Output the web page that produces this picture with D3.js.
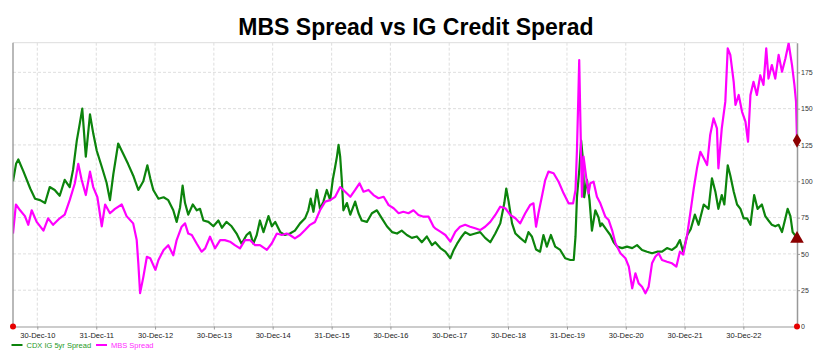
<!DOCTYPE html>
<html><head><meta charset="utf-8">
<script src="https://cdn.jsdelivr.net/npm/d3@7"></script>
<style>body{margin:0;background:#fff}svg{display:block;font-family:"Liberation Sans",Arial,sans-serif}</style>
</head><body><svg id="c" width="818" height="358"></svg>
<script>
const title = "MBS Spread vs IG Credit Sperad";
const seriesNames = ["CDX IG 5yr Spread", "MBS Spread"];
const xTickDates = ["2010-12-30","2011-12-31","2012-12-30","2013-12-30","2014-12-30","2015-12-31","2016-12-30","2017-12-30","2018-12-30","2019-12-31","2020-12-30","2021-12-30","2022-12-30"];
const xTickLabels = ["30-Dec-10","31-Dec-11","30-Dec-12","30-Dec-13","30-Dec-14","31-Dec-15","30-Dec-16","30-Dec-17","30-Dec-18","31-Dec-19","30-Dec-20","30-Dec-21","30-Dec-22"];
const yTicks = [0,25,50,75,100,125,150,175];
const xDomain = ["2010-08-01","2023-11-28"];
const yMax = 195.4;

const cdxData = [
["2010-08-01",100],["2010-08-20",112],["2010-09-03",115],["2010-10-04",107],["2010-11-16",95],["2010-12-16",88],
["2011-01-16",87],["2011-02-16",85],["2011-03-17",96],["2011-04-17",94],["2011-05-18",90],["2011-06-18",101],
["2011-07-19",96],["2011-08-09",108],["2011-09-01",128],["2011-09-20",140],["2011-10-05",150],["2011-10-27",117],
["2011-11-22",146],["2011-12-12",133],["2012-01-03",121],["2012-02-03",110],["2012-03-04",99],["2012-03-25",87],
["2012-04-15",105],["2012-05-15",126],["2012-06-15",119],["2012-07-15",112],["2012-08-16",104],["2012-09-17",94],
["2012-10-18",100],["2012-11-12",111],["2012-11-30",102],["2012-12-19",94],["2013-01-20",88],["2013-02-21",89],
["2013-03-22",87],["2013-04-22",80],["2013-05-13",72],["2013-06-03",82],["2013-06-19",97],["2013-07-04",85],
["2013-07-24",77],["2013-08-21",84],["2013-09-15",80],["2013-10-05",81],["2013-10-26",73],["2013-11-26",72],
["2013-12-27",69],["2014-01-27",73],["2014-02-18",68],["2014-03-18",72],["2014-04-19",69],["2014-05-20",64],
["2014-06-20",57],["2014-07-21",63],["2014-08-11",65],["2014-09-01",57],["2014-09-22",63],["2014-10-12",73],
["2014-11-03",65],["2014-12-04",76],["2014-12-25",69],["2015-01-15",72],["2015-02-15",65],["2015-03-16",63],
["2015-04-16",64],["2015-05-17",66],["2015-06-18",71],["2015-07-19",74.5],["2015-08-08",80],["2015-08-23",88],
["2015-09-09",79],["2015-09-30",94],["2015-10-20",81],["2015-11-10",86],["2015-12-01",94],["2015-12-22",87],
["2016-01-07",101],["2016-01-22",110],["2016-02-02",117],["2016-02-12",125],["2016-02-22",117],["2016-03-03",101],
["2016-03-13",80],["2016-04-04",85],["2016-04-25",77],["2016-05-25",86],["2016-06-15",78],["2016-07-05",73],
["2016-08-06",72],["2016-09-06",78],["2016-10-07",80],["2016-11-07",74.5],["2016-12-08",69],["2017-01-09",65],
["2017-02-09",64],["2017-03-10",66],["2017-04-11",63],["2017-05-12",61],["2017-06-12",62],["2017-07-13",58],
["2017-08-13",62],["2017-09-14",56],["2017-10-04",58],["2017-11-05",54],["2017-12-06",51.5],["2018-01-06",47],
["2018-01-27",52.7],["2018-02-17",57],["2018-03-18",62],["2018-04-08",65],["2018-05-09",63],["2018-06-09",64],
["2018-07-10",65],["2018-08-10",61],["2018-09-11",58],["2018-10-12",64],["2018-11-12",71],["2018-12-07",85],
["2018-12-19",95],["2019-01-03",86],["2019-01-24",71],["2019-02-14",64],["2019-03-15",61],["2019-04-16",58],
["2019-05-06",65],["2019-05-27",62],["2019-06-22",53],["2019-07-17",51.5],["2019-08-07",63],["2019-08-28",55],
["2019-09-22",63],["2019-10-19",55],["2019-11-19",52.7],["2019-12-20",47],["2020-01-21",45.8],["2020-02-11",45.8],
["2020-02-22",62],["2020-03-02",89],["2020-03-18",110],["2020-03-28",128],["2020-04-08",115],["2020-04-16",89],
["2020-05-03",101],["2020-05-19",87],["2020-06-03",66],["2020-06-24",80],["2020-07-14",75],["2020-07-25",69],
["2020-08-04",71],["2020-09-05",66],["2020-09-25",63],["2020-10-16",58],["2020-11-06",55],["2020-12-07",54],
["2021-01-07",55],["2021-02-08",54],["2021-03-10",56],["2021-04-10",52.7],["2021-05-11",51.5],["2021-06-11",50.4],
["2021-07-12",51.5],["2021-08-12",51.5],["2021-09-12",54],["2021-10-13",52.7],["2021-11-09",55],["2021-12-01",59.5],
["2021-12-21",51.5],["2022-01-16",63],["2022-02-06",67],["2022-03-04",77],["2022-03-27",70],["2022-04-28",84],
["2022-05-28",81],["2022-06-18",102],["2022-07-09",93],["2022-07-28",81],["2022-08-18",90.5],["2022-09-03",84],
["2022-09-24",111],["2022-10-10",104],["2022-10-31",93],["2022-11-21",84],["2022-12-12",81],["2023-01-01",74.5],
["2023-01-22",74.5],["2023-02-12",70],["2023-03-07",90.5],["2023-03-28",81],["2023-04-24",84],["2023-05-15",76],
["2023-06-04",73],["2023-06-25",70],["2023-07-16",69],["2023-08-06",70],["2023-08-27",65],["2023-09-17",74.5],
["2023-10-01",81],["2023-10-18",76],["2023-11-01",65],["2023-11-28",61]
];

const mbsData = [
["2010-08-01",64],["2010-08-19",84],["2010-09-14",80],["2010-10-14",76],["2010-11-04",70],["2010-11-25",80],
["2010-12-26",72],["2011-02-06",66],["2011-03-07",74.5],["2011-04-07",70],["2011-05-18",74.5],["2011-06-18",77],
["2011-07-19",87],["2011-08-20",98.6],["2011-09-10",112],["2011-10-01",101],["2011-10-27",90.5],["2011-11-22",106.6],
["2011-12-12",96],["2012-01-07",89],["2012-02-03",69],["2012-02-24",84],["2012-03-25",78],["2012-04-25",81],
["2012-06-06",84],["2012-07-06",76],["2012-08-16",71],["2012-09-07",59.5],["2012-09-17",43.5],["2012-09-28",23],
["2012-10-18",34],["2012-11-09",48],["2012-11-30",47],["2013-01-01",39],["2013-01-20",45.8],["2013-02-21",52.7],
["2013-03-22",56],["2013-04-22",49],["2013-05-13",59.5],["2013-06-13",68.7],["2013-07-04",71],["2013-07-24",64],
["2013-08-15",63],["2013-09-15",57],["2013-10-15",51.5],["2013-11-06",53.8],["2013-12-06",61.8],["2014-01-06",53.8],
["2014-02-07",59.5],["2014-03-08",59.5],["2014-04-09",58.4],["2014-05-09",56],["2014-06-10",53.8],["2014-07-11",59.5],
["2014-08-11",59.5],["2014-09-12",56],["2014-10-12",56],["2014-11-24",52.7],["2014-12-25",57.3],["2015-01-25",64],
["2015-02-25",63],["2015-03-27",64],["2015-04-16",63],["2015-05-17",60.7],["2015-06-18",63],["2015-07-19",66.4],
["2015-08-19",70],["2015-09-19",72],["2015-10-20",80],["2015-11-21",86],["2015-12-22",87],["2016-01-22",89.3],
["2016-02-22",96],["2016-03-24",92.8],["2016-04-25",89.3],["2016-05-25",94],["2016-06-21",98.6],["2016-07-16",92.8],
["2016-08-16",94],["2016-09-16",90.5],["2016-10-17",88.3],["2016-11-18",89.3],["2016-12-19",83.6],["2017-01-19",81.4],
["2017-02-19",78],["2017-03-20",79],["2017-04-21",78],["2017-05-22",80],["2017-06-22",76.8],["2017-07-23",75.6],
["2017-08-24",75.6],["2017-09-24",68.7],["2017-10-04",67.6],["2017-11-05",65.3],["2017-12-06",63],["2018-01-06",58.4],
["2018-02-06",65.3],["2018-03-07",68.7],["2018-04-08",70],["2018-05-09",68.7],["2018-06-09",67.6],["2018-07-10",66.4],
["2018-08-10",68.7],["2018-09-11",72],["2018-10-12",76.8],["2018-11-12",82.5],["2018-12-13",81.4],["2019-01-13",76.8],
["2019-02-14",74.5],["2019-03-15",71],["2019-04-16",78],["2019-05-16",83.6],["2019-06-06",84.8],["2019-06-22",68.7],
["2019-07-07",78],["2019-07-28",89.3],["2019-08-18",100.8],["2019-09-07",106.6],["2019-10-09",105.5],["2019-11-09",99.7],
["2019-12-10",91.7],["2020-01-10",84.8],["2020-02-07",84.8],["2020-02-22",94],["2020-03-02",121.5],["2020-03-10",156],
["2020-03-16",183.5],["2020-03-22",149],["2020-04-02",89.3],["2020-04-12",117],["2020-04-28",103],["2020-05-13",91.7],
["2020-05-24",98.6],["2020-06-13",99.7],["2020-07-04",89.3],["2020-07-25",84.8],["2020-08-25",75.6],["2020-09-15",73.3],
["2020-10-06",66.4],["2020-10-27",57.3],["2020-11-27",50.4],["2020-12-28",47],["2021-01-18",41.2],["2021-02-08",26.3],
["2021-02-28",36.6],["2021-03-20",29.7],["2021-04-10",27.4],["2021-05-01",22.9],["2021-05-21",27.4],["2021-06-11",43.5],
["2021-07-01",48],["2021-07-22",50.4],["2021-08-12",45.8],["2021-09-12",44.6],["2021-10-13",43.5],["2021-11-09",41.2],
["2021-12-01",51.5],["2021-12-22",49.5],["2022-01-15",63],["2022-02-06",80],["2022-02-25",95],["2022-03-17",108.9],
["2022-04-07",120.3],["2022-04-28",115.8],["2022-05-19",111.2],["2022-06-07",131.8],["2022-06-28",143.3],["2022-07-19",136.4],
["2022-07-28",108.9],["2022-08-18",136.4],["2022-09-09",154.8],["2022-09-24",191.5],["2022-10-10",187],["2022-10-31",168.5],
["2022-11-11",152.5],["2022-12-01",159.4],["2022-12-22",147.8],["2023-01-12",141],["2023-01-28",127.2],["2023-02-12",159.4],
["2023-03-03",168.5],["2023-03-24",159.4],["2023-04-14",173],["2023-05-04",166.3],["2023-05-21",191.5],["2023-06-04",170.7],
["2023-06-25",180],["2023-07-16",170.7],["2023-08-06",187],["2023-08-27",175.4],["2023-09-17",184.5],["2023-10-07",195],
["2023-10-28",180],["2023-11-12",166.3],["2023-11-22",154.8],["2023-11-28",128]
];

const colors = ["#0c840c", "#ff00ff"];
const legendColors = ["#1f9a1f", "#ff2cff"];
const markerColor = "#8b0000";

const parse = d3.timeParse("%Y-%m-%d");
const svg = d3.select("#c");
const L = 13, R = 797, T = 42.7, B = 326.5;
const x = d3.scaleTime().domain(xDomain.map(parse)).range([L, R]);
const y = d3.scaleLinear().domain([0, yMax]).range([B, T]);

// title
svg.append("text").attr("x", 416).attr("y", 35).attr("text-anchor", "middle")
  .attr("font-size", 23).attr("font-weight", "bold").attr("fill", "#000").text(title);

// grid
const grid = svg.append("g");
grid.selectAll("line.h").data(yTicks.filter(d => d > 0)).join("line")
  .attr("x1", L).attr("x2", R).attr("y1", d => y(d)).attr("y2", d => y(d))
  .attr("stroke", "#d6d6d6").attr("stroke-width", 0.8).attr("stroke-dasharray", "3,2");
grid.selectAll("line.v").data(xTickDates.map(parse)).join("line")
  .attr("x1", d => x(d)).attr("x2", d => x(d)).attr("y1", T).attr("y2", B)
  .attr("stroke", "#d6d6d6").attr("stroke-width", 0.8).attr("stroke-dasharray", "3,2");
svg.append("line").attr("x1", L).attr("x2", R).attr("y1", T).attr("y2", T).attr("stroke", "#dddddd").attr("stroke-width", 1);

// clip
svg.append("clipPath").attr("id", "clip").append("rect").attr("x", L).attr("y", T).attr("width", R - L).attr("height", B - T);

const line = d3.line().x(d => x(parse(d[0]))).y(d => y(d[1]));
const plot = svg.append("g").attr("clip-path", "url(#clip)");
[cdxData, mbsData].forEach((data, i) => {
  plot.append("path").datum(data).attr("d", line).attr("fill", "none")
    .attr("stroke", colors[i]).attr("stroke-width", 2.2).attr("stroke-linejoin", "round");
});

// left axis line
svg.append("line").attr("x1", L).attr("x2", L).attr("y1", T).attr("y2", B).attr("stroke", "#8a8a8a").attr("stroke-width", 1.2);

// bottom axis
const xAxis = d3.axisBottom(x).tickValues(xTickDates.map(parse))
  .tickFormat((d, i) => xTickLabels[i]).tickSize(3).tickSizeOuter(0).tickPadding(3);
const gx = svg.append("g").attr("transform", `translate(0,${B})`).call(xAxis);
gx.select(".domain").attr("stroke", "#999").attr("stroke-width", 1.2);
gx.selectAll(".tick line").attr("stroke", "#999");
gx.selectAll("text").attr("font-size", 7.5).attr("fill", "#222").attr("font-family", "'Liberation Sans',Arial,sans-serif");

// right axis
const yAxis = d3.axisRight(y).tickValues(yTicks).tickSize(3).tickSizeOuter(0).tickPadding(1);
const gy = svg.append("g").attr("transform", `translate(${R},0)`).call(yAxis);
gy.select(".domain").attr("stroke", "#999").attr("stroke-width", 1.5);
gy.selectAll(".tick line").attr("stroke", "#999");
gy.selectAll("text").attr("font-size", 7).attr("fill", "#333").attr("font-family", "'Liberation Sans',Arial,sans-serif");

// corner dots
svg.selectAll("circle.dot").data([L, R]).join("circle").attr("cx", d => d).attr("cy", B).attr("r", 3).attr("fill", "#e60000");

// end markers
const lastC = cdxData[cdxData.length - 1], lastM = mbsData[mbsData.length - 1];
svg.append("path").attr("d", d3.symbol(d3.symbolDiamond, 60)())
  .attr("transform", `translate(${x(parse(lastM[0]))},${y(lastM[1])})`).attr("fill", markerColor);
svg.append("path").attr("d", d3.symbol(d3.symbolTriangle, 80)())
  .attr("transform", `translate(${x(parse(lastC[0]))},${y(lastC[1]) + 1})`).attr("fill", markerColor);

// legend
const leg = svg.append("g");
const legX = [11.5, 96];
seriesNames.forEach((n, i) => {
  leg.append("line").attr("x1", legX[i]).attr("x2", legX[i] + 11).attr("y1", 345).attr("y2", 345)
    .attr("stroke", colors[i]).attr("stroke-width", 2);
  leg.append("text").attr("x", legX[i] + 15).attr("y", 347.6).attr("font-size", 7.5)
    .attr("fill", legendColors[i]).text(n);
});
</script></body></html>
